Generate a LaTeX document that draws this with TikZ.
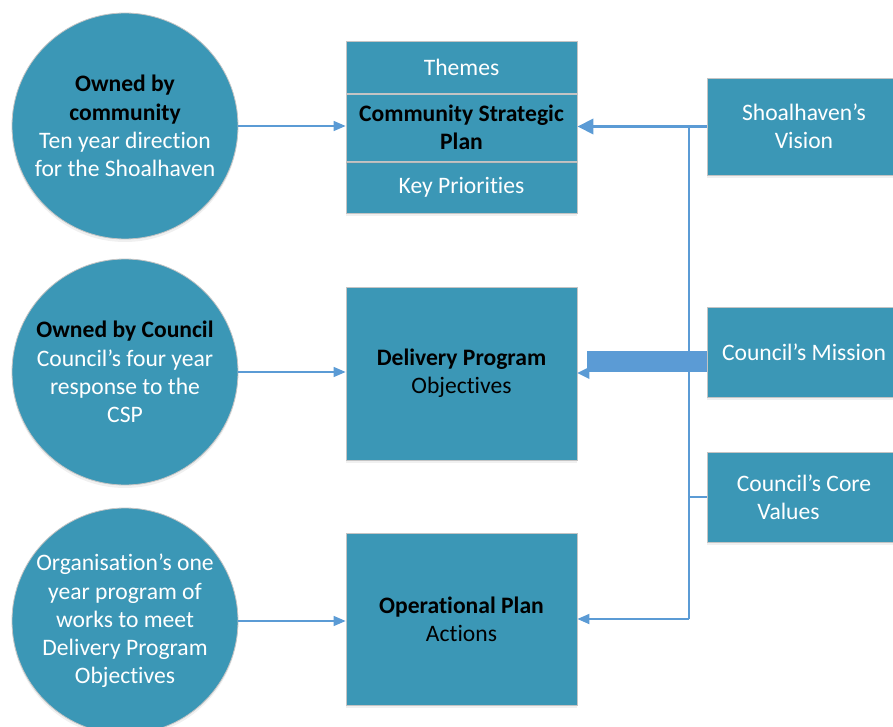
\documentclass[tikz,border=0pt]{standalone}
\usepackage{fontspec}
\setmainfont{Carlito}[Ligatures=NoCommon]
\usetikzlibrary{arrows.meta,shadows}
\definecolor{tealfill}{RGB}{59,151,182}
\definecolor{lineblue}{RGB}{91,155,213}
\definecolor{edgegray}{RGB}{196,196,196}
\newcommand\blkb[1]{{\color{black}\bfseries #1}}
\begin{document}
\begin{tikzpicture}[x=1pt,y=-1pt,
  font=\fontsize{23.6}{28.2}\selectfont,
  softshadow/.style={drop shadow={shadow xshift=0pt,shadow yshift=-3pt,opacity=0.12}},
  box/.style={rectangle, fill=tealfill, draw=edgegray, line width=0.8pt, inner sep=0pt,
    align=center, text=white, softshadow},
  circ/.style={circle, fill=tealfill, draw=edgegray, line width=0.8pt, minimum size=226pt,
    inner sep=0pt, align=center, text=white, softshadow},
  conn/.style={draw=lineblue, line width=1.5pt, -{Triangle[length=12pt,width=10pt]}},
  trunk/.style={draw=lineblue, line width=1.8pt}
]
\path[use as bounding box, clip] (0,0) rectangle (893,727);

% circles
\node[circ] (c1) at (125,126) {\blkb{Owned by}\\\blkb{community}\\Ten year direction\\for the Shoalhaven};
\node[circ] (c2) at (125,372) {\blkb{Owned by Council}\\Council’s four year\\response to the\\CSP};
\node[circ] (c3) at (125,621) {Organisation’s one\\year program of\\works to meet\\Delivery Program\\Objectives};

% central column
\node[box, minimum width=231pt, minimum height=52pt] (themes) at (461.5,67) {Themes};
\node[box, minimum width=231pt, minimum height=51pt] (key) at (461.5,187.5) {Key Priorities};
\node[box, minimum width=231pt, minimum height=67pt] (csp) at (461.5,127.5) {\blkb{Community Strategic}\\\blkb{Plan}};
\node[box, minimum width=231pt, minimum height=173pt] (dp) at (461.5,373.5) {\blkb{Delivery Program}\\{\color{black}Objectives}};
\node[box, minimum width=231pt, minimum height=172pt] (op) at (461.5,619) {\blkb{Operational Plan}\\{\color{black}Actions}};

% right column
\node[box, minimum width=194pt, minimum height=97pt] (vision) at (804,126.5) {Shoalhaven’s\\Vision};
\node[box, minimum width=194pt, minimum height=90pt] (mission) at (804,352) {Council’s Mission};
\node[box, minimum width=194pt, minimum height=90pt] (core) at (804,497) {Council’s Core\\Values\hspace*{31pt}};

% left connectors
\draw[conn] (c1.east) -- (c1.east -| csp.west);
\draw[conn] (c2.east) -- (c2.east -| dp.west);
\draw[conn] (c3.east) -- (c3.east -| op.west);

% mission block arrow
\coordinate (mbar) at (587,361.5);
\draw[lineblue, line width=21pt] (mission.west |- mbar) -- (mbar);
\fill[lineblue] (dp.east |- 0,373) -- ++(12,-6) -- ++(0,12) -- cycle;

% right connectors
\coordinate (j) at (689,126.5);
\draw[draw=lineblue, line width=3.5pt, -{Triangle[length=16pt,width=15pt]}] (vision.west) -- (vision.west -| csp.east);
\draw[trunk] (j) -- (j |- op.east);
\draw[conn, line width=1.8pt] (j |- op.east) -- (op.east);
\draw[trunk] (core.west) -- (core.west -| j);
\end{tikzpicture}
\end{document}
